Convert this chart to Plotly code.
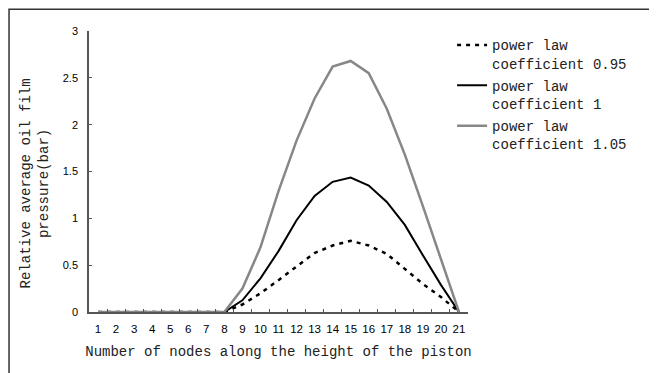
import plotly.graph_objects as go

categories = [str(i) for i in range(1, 22)]
coef_095 = [0, 0, 0, 0, 0, 0, 0, 0, 0.08, 0.20, 0.34, 0.49, 0.63, 0.71, 0.76, 0.71, 0.62, 0.46, 0.30, 0.16, 0]
coef_100 = [0, 0, 0, 0, 0, 0, 0, 0, 0.125, 0.36, 0.65, 0.98, 1.24, 1.39, 1.435, 1.35, 1.175, 0.93, 0.605, 0.29, 0]
coef_105 = [0, 0, 0, 0, 0, 0, 0, 0, 0.25, 0.69, 1.29, 1.83, 2.28, 2.62, 2.68, 2.55, 2.17, 1.68, 1.13, 0.56, 0]
series_names = ["power law<br>coefficient 0.95", "power law<br>coefficient 1", "power law<br>coefficient 1.05"]
y_ticks = [0, 0.5, 1, 1.5, 2, 2.5, 3]
y_tick_text = ["0", "0.5", "1", "1.5", "2", "2.5", "3"]

mono = "Liberation Mono"
sans = "Liberation Sans, Arial"

fig = go.Figure()
fig.add_trace(go.Scatter(x=categories, y=coef_095, mode="lines", name=series_names[0],
                         legendgroup="a", line=dict(color="black", width=2.5, dash="4px,5px")))
fig.add_trace(go.Scatter(x=categories, y=coef_100, mode="lines", name=series_names[1],
                         legendgroup="b", line=dict(color="black", width=2)))
fig.add_trace(go.Scatter(x=categories, y=coef_105, mode="lines", name=series_names[2],
                         legendgroup="c", line=dict(color="rgb(135,135,135)", width=2.5)))

fig.update_layout(
    width=657, height=373,
    margin=dict(l=81, r=197, t=23, b=69, autoexpand=False),
    paper_bgcolor="white", plot_bgcolor="white",
    showlegend=True,
    legend=dict(x=0.958, xanchor="left", y=1.006, yanchor="top", valign="top",
                font=dict(family=mono, size=14, color="#222"), traceorder="grouped",
                bgcolor="rgba(0,0,0,0)", itemwidth=30, tracegroupgap=1),
    xaxis=dict(type="category", range=[-0.5, 20.5], showgrid=False, zeroline=False,
               showline=True, linecolor="#555", linewidth=1.5, tickangle=0, automargin=False,
               ticks="inside", tickson="boundaries", ticklen=3, tickcolor="#555",
               ticklabelstandoff=5,
               tickfont=dict(family=sans, size=11.5, color="black"),
               title=dict(text="Number of nodes along the height of the piston",
                          font=dict(family=mono, size=14, color="#222"), standoff=13)),
    yaxis=dict(range=[0, 3], tickvals=y_ticks, ticktext=y_tick_text, showgrid=False,
               zeroline=False, showline=True, linecolor="#555", linewidth=1.5, automargin=False,
               ticks="inside", ticklen=3, tickcolor="#555", ticklabelstandoff=7,
               tickfont=dict(family=sans, size=11, color="black")),
    shapes=[dict(type="rect", xref="paper", yref="paper", x0=-0.211, x1=3, y0=-1, y1=1.077,
                 line=dict(color="#333", width=1.5), layer="below")],
    annotations=[dict(text="Relative average oil film<br>pressure(bar)", xref="paper", yref="paper",
                      x=-0.092, y=0.458, xanchor="right", yanchor="middle", textangle=-90,
                      showarrow=False, font=dict(family=mono, size=14, color="#222"))],
)

fig.write_html("out.html")
